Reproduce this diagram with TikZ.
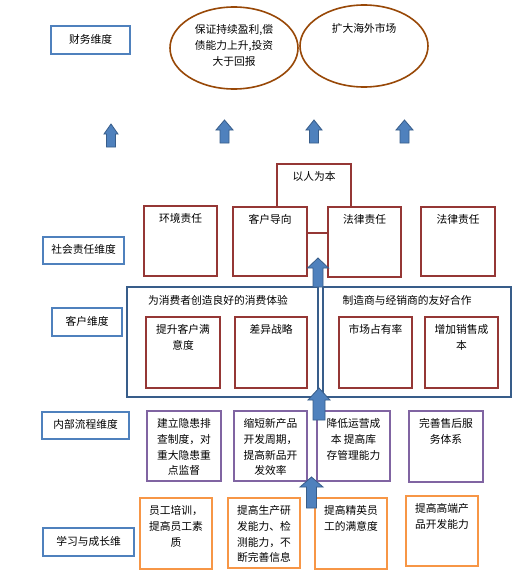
\documentclass[tikz,border=0pt]{standalone}
\usepackage{fontspec}
\newfontfamily\cjk{Noto Sans CJK SC}
\usetikzlibrary{shapes.geometric}
\definecolor{dimblue}{HTML}{4F81BD}
\definecolor{bigblue}{HTML}{385D8A}
\definecolor{boxred}{HTML}{953735}
\definecolor{boxpurple}{HTML}{8064A2}
\definecolor{boxorange}{HTML}{F79646}
\definecolor{ellbrown}{HTML}{984807}
\tikzset{
  txt/.style={inner sep=0pt, align=center, font=\cjk\fontsize{10.75}{15.8}\selectfont},
  dimbox/.style={draw=dimblue, line width=1.5pt, fill=white, inner sep=0pt},
  redbox/.style={draw=boxred, line width=1.6pt, fill=white, inner sep=0pt},
  purplebox/.style={draw=boxpurple, line width=1.6pt, fill=white, inner sep=0pt},
  orangebox/.style={draw=boxorange, line width=1.6pt, fill=white, inner sep=0pt},
  bigbox/.style={draw=bigblue, line width=1.6pt, fill=white, inner sep=0pt},
  ellbox/.style={draw=ellbrown, line width=1.6pt, fill=white, ellipse, inner sep=0pt},
  arrowst/.style={fill=dimblue, draw=bigblue, line width=0.8pt, line join=miter},
}
% box from corners, text at top
\newcommand\tbox[7]{%
  \node[#1, minimum width={#5-#3}, minimum height={#6-#4}] (#2) at ({(#3+#5)/2},{(#4+#6)/2}) {};
  \node[txt, anchor=north] (#2t) at ([yshift=-8pt]#2.north) {#7};}
% box from corners, text centred
\newcommand\cbox[7]{%
  \node[#1, minimum width={#5-#3}, minimum height={#6-#4}] (#2) at ({(#3+#5)/2},{(#4+#6)/2}) {};
  \node[txt] (#2t) at ([yshift=1pt]#2.center) {#7};}
% block up arrow: xc, ytop, yheadbase, ybottom, head half width, shaft half width
\newcommand\blockup[6]{%
  \draw[arrowst] (#1,#2) -- ({#1+#5},#3) -- ({#1+#6},#3) -- ({#1+#6},#4) -- ({#1-#6},#4) -- ({#1-#6},#3) -- ({#1-#5},#3) -- cycle;}
\begin{document}
\begin{tikzpicture}[x=1pt,y=-1pt]
\useasboundingbox[fill=white] (0,0) rectangle (512,581);

% dimension labels
\cbox{dimbox}{d1}{51}{26}{130}{54}{财务维度}
\cbox{dimbox}{d2}{43}{237}{124}{264}{社会责任维度}
\cbox{dimbox}{d3}{52}{308}{122}{336}{客户维度}
\cbox{dimbox}{d4}{42}{412}{129}{439}{内部流程维度}
\cbox{dimbox}{d5}{43}{528}{134}{556}{学习与成长维}

% financial ellipses
\node[ellbox, minimum width=128, minimum height=82] (e1) at (234,48) {};
\node[txt, anchor=north] (e1t) at (234,24.5) {保证持续盈利,偿\\债能力上升,投资\\大于回报};
\node[ellbox, minimum width=128, minimum height=82] (e2) at (364,46) {};
\node[txt, anchor=north] (e2t) at (364,23) {扩大海外市场};

% arrows between financial and social
\blockup{111}{124}{134}{147}{7}{4.5}
\blockup{224.5}{120}{130}{143}{8.5}{4.5}
\blockup{314}{120}{130}{143}{8}{4.5}
\blockup{404.5}{120}{130}{143}{8.5}{4.5}

% social responsibility
\tbox{redbox}{people}{277}{164}{351}{233}{以人为本}
\tbox{redbox}{env}{144}{206}{217}{276}{环境责任}
\tbox{redbox}{cust}{233}{207}{307}{276}{客户导向}
\tbox{redbox}{lawa}{328}{207}{401}{277}{法律责任}
\tbox{redbox}{lawb}{421}{207}{495}{276}{法律责任}

% customer dimension
\node[bigbox, minimum width=191, minimum height=110] (bigl) at (222.5,342) {};
\node[txt, anchor=north] (biglt) at (218,295) {为消费者创造良好的消费体验};
\node[bigbox, minimum width=188, minimum height=110] (bigr) at (417,342) {};
\node[txt, anchor=north] (bigrt) at (407,295) {制造商与经销商的友好合作};
\tbox{redbox}{sat}{146}{317}{220}{388}{提升客户满\\意度}
\tbox{redbox}{diff}{235}{317}{307}{388}{差异战略}
\tbox{redbox}{mkt}{339}{317}{412}{388}{市场占有率}
\tbox{redbox}{cost}{425}{317}{498}{388}{增加销售成\\本}

% internal process
\tbox{purplebox}{pa}{147}{411}{221}{481}{建立隐患排\\查制度，对\\重大隐患重\\点监督}
\tbox{purplebox}{pb}{234}{411}{307}{481}{缩短新产品\\开发周期，\\提高新品开\\发效率}
\tbox{purplebox}{pc}{317}{411}{390}{481}{降低运营成\\本 提高库\\存管理能力}
\tbox{purplebox}{pd}{409}{411}{483}{482}{完善售后服\\务体系}

% learning and growth
\tbox{orangebox}{oa}{140}{498}{212}{569}{员工培训，\\提高员工素\\质}
\tbox{orangebox}{ob}{228}{498}{300}{568}{提高生产研\\发能力、检\\测能力，不\\断完善信息}
\tbox{orangebox}{oc}{315}{498}{387}{569}{提高精英员\\工的满意度}
\tbox{orangebox}{od}{406}{496}{478}{566}{提高高端产\\品开发能力}

% central arrows
\blockup{318}{258}{268}{287}{10.5}{5}
\blockup{319}{388}{400}{420}{11}{6}
\blockup{311.5}{477}{487}{508}{11.5}{5}
\end{tikzpicture}
\end{document}
